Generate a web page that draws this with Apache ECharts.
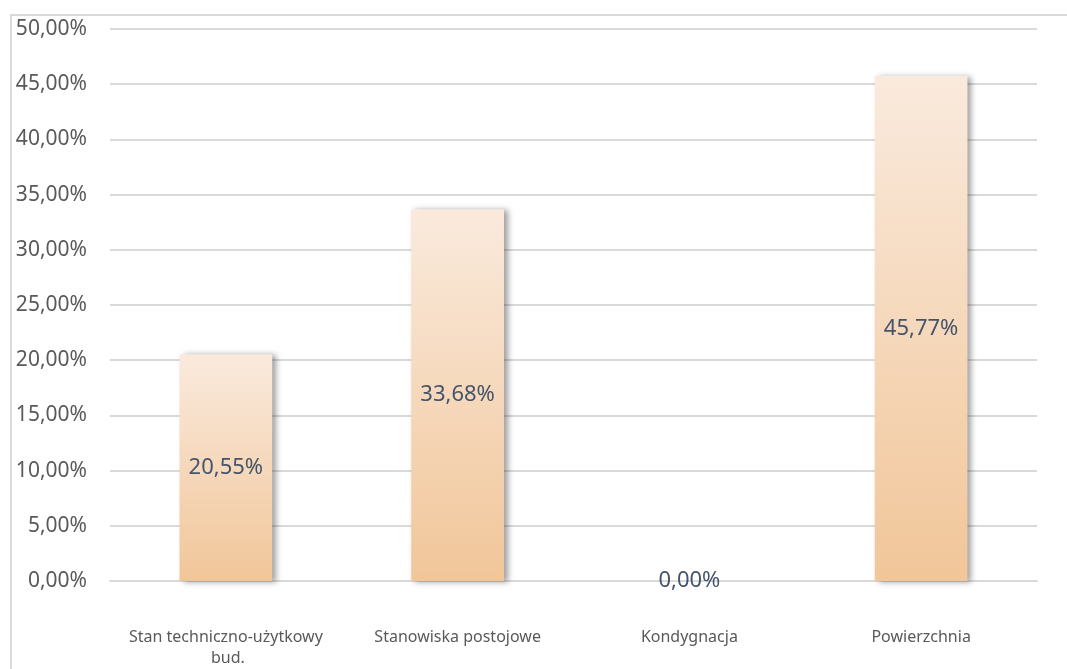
<!DOCTYPE html>
<html>
<head>
<meta charset="utf-8">
<script src="https://cdn.jsdelivr.net/npm/echarts@6/dist/echarts.min.js"></script>
<style>
  html, body { margin: 0; padding: 0; background: #fff; }
  #frame { position: absolute; left: 10px; top: 14px; width: 1057px; height: 655px;
           border-top: 2px solid #D9D9D9; border-left: 2px solid #D9D9D9; box-sizing: border-box; }
  #chart { position: absolute; left: 0; top: 0; width: 1067px; height: 669px; }
</style>
</head>
<body>
<div id="frame"></div>
<div id="chart"></div>
<script>
// Share of each criterion (percent)
const categories = ['Stan techniczno-użytkowy bud.', 'Stanowiska postojowe', 'Kondygnacja', 'Powierzchnia'];
const shares = [20.55, 33.68, 0.00, 45.77];
const yTicks = { min: 0, max: 50, interval: 5 };

const fmt = v => v.toFixed(2).replace('.', ',') + '%';

const chart = echarts.init(document.getElementById('chart'), null, { renderer: 'canvas' });
chart.setOption({
  animation: false,
  grid: { left: 110, right: 30, top: 29, bottom: 88, containLabel: false, outerBoundsMode: 'none' },
  xAxis: {
    type: 'category',
    data: categories,
    axisLine: { show: true, lineStyle: { color: '#D9D9D9', width: 2 } },
    axisTick: { show: false },
    axisLabel: {
      color: '#595959', fontFamily: 'Noto Sans', fontSize: 16, margin: 46,
      width: 205, overflow: 'break', lineHeight: 21, interval: 0
    }
  },
  yAxis: {
    type: 'value',
    min: yTicks.min, max: yTicks.max, interval: yTicks.interval,
    axisLine: { show: false },
    axisTick: { show: false },
    splitLine: { lineStyle: { color: '#D9D9D9', width: 2 } },
    axisLabel: {
      color: '#595959', fontFamily: 'Noto Sans', fontSize: 21, margin: 23,
      formatter: v => fmt(v)
    }
  },
  series: [{
    type: 'bar',
    data: shares,
    barWidth: '40%',
    itemStyle: {
      color: new echarts.graphic.LinearGradient(0, 0, 0, 1, [
        { offset: 0, color: '#FAEADD' },
        { offset: 1, color: '#F1C699' }
      ]),
      shadowColor: 'rgba(0,0,0,0.38)',
      shadowBlur: 6,
      shadowOffsetX: 4,
      shadowOffsetY: 1
    },
    label: {
      show: true,
      position: 'inside',
      color: '#44546A',
      fontFamily: 'Noto Sans',
      fontSize: 22,
      formatter: p => fmt(p.value)
    }
  }]
});
</script>
</body>
</html>
